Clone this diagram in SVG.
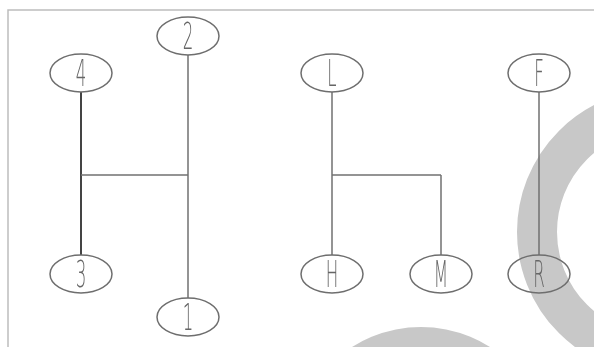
<svg xmlns="http://www.w3.org/2000/svg" width="594" height="347" viewBox="0 0 594 347">
<defs>
<filter id="gray" x="-20%" y="-20%" width="140%" height="140%"><feColorMatrix type="saturate" values="0"/></filter>
</defs>
<style>
.bg{fill:#ffffff}
.ring{fill:none;stroke:#c8c8c8;stroke-width:40}
.blob{fill:#c8c8c8}
.frame{fill:none;stroke:#bdbdbd;stroke-width:1.5}
.node ellipse{fill:none;stroke:#6e6e6e;stroke-width:1.5}
.node text{font-family:"DejaVu Sans","Liberation Sans",Arial,sans-serif;font-weight:200;font-size:37px;fill:#666666;text-anchor:middle}
.labels{filter:url(#gray)}
.conn line{stroke:#707070;stroke-width:1.5;fill:none}
.conn line.dark{stroke:#444;stroke-width:2}
</style>
<rect class="bg" x="0" y="0" width="594" height="347"/>
<g id="background">
<circle class="ring" cx="660" cy="232" r="123"/>
<circle class="blob" cx="421" cy="456" r="129"/>
<path class="frame" d="M8 347 V10 H594"/>
</g>
<g id="connectors" class="conn">
<line class="dark" x1="81" y1="92" x2="81" y2="255"/>
<line x1="81" y1="175" x2="188" y2="175"/>
<line x1="188" y1="55" x2="188" y2="298"/>
<line x1="332" y1="92" x2="332" y2="255"/>
<line x1="332" y1="175" x2="441" y2="175"/>
<line x1="441" y1="175" x2="441" y2="255"/>
<line x1="539" y1="92" x2="539" y2="255"/>
</g>
<g class="labels">
<g id="node-4" class="node"><ellipse cx="81" cy="73" rx="31" ry="19"/><text transform="translate(81,86) scale(0.45,1)">4</text></g>
<g id="node-2" class="node"><ellipse cx="188" cy="36" rx="31" ry="19"/><text transform="translate(188,49) scale(0.45,1)">2</text></g>
<g id="node-3" class="node"><ellipse cx="81" cy="274" rx="31" ry="19"/><text transform="translate(81,287) scale(0.45,1)">3</text></g>
<g id="node-1" class="node"><ellipse cx="188" cy="317" rx="31" ry="19"/><text transform="translate(188,330) scale(0.45,1)">1</text></g>
<g id="node-L" class="node"><ellipse cx="332" cy="73" rx="31" ry="19"/><text transform="translate(332,86) scale(0.45,1)">L</text></g>
<g id="node-F" class="node"><ellipse cx="539" cy="73" rx="31" ry="19"/><text transform="translate(539,86) scale(0.45,1)">F</text></g>
<g id="node-H" class="node"><ellipse cx="332" cy="274" rx="31" ry="19"/><text transform="translate(332,287) scale(0.45,1)">H</text></g>
<g id="node-M" class="node"><ellipse cx="441" cy="274" rx="31" ry="19"/><text transform="translate(441,287) scale(0.45,1)">M</text></g>
<g id="node-R" class="node"><ellipse cx="539" cy="274" rx="31" ry="19"/><text transform="translate(539,287) scale(0.45,1)">R</text></g>
</g>
</svg>
